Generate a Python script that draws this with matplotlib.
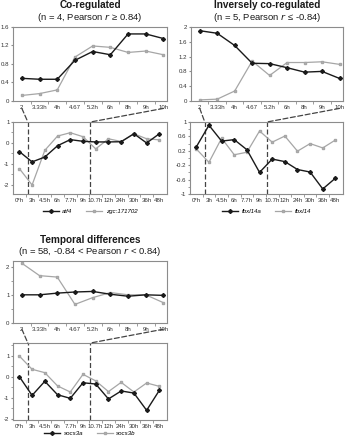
import numpy as np
import matplotlib
matplotlib.use('Agg')
from matplotlib import pyplot as plt
from matplotlib.patches import ConnectionPatch
from matplotlib.ticker import FormatStrFormatter, MultipleLocator, FixedLocator

plt.rcParams['font.family'] = ['Liberation Sans', 'DejaVu Sans']

'time points'
early_labels = ['2', '3.33h', '4h', '4.67', '5.2h', '6h', '8h', '9h', '10h']
full_labels = ['0*h', '3h', '4.5h', '6h', '7.7h', '9h', '10.7h', '12h', '24h', '30h', '36h', '48h']
full_hours = [0, 3, 4.5, 6, 7.7, 9, 10.7, 12, 24, 30, 36, 48]
zoom_from, zoom_to = 2, 10

'co-regulated'
atf4_early = [0.49, 0.47, 0.47, 0.88, 1.07, 1.00, 1.45, 1.45, 1.35]
zgc_early = [0.12, 0.16, 0.24, 0.95, 1.19, 1.16, 1.05, 1.08, 1.00]
atf4_full = [-0.41, -0.90, -0.67, -0.13, 0.16, 0.08, 0.05, 0.05, 0.06, 0.44, 0.00, 0.44]
zgc_full = [-1.22, -2.00, -0.35, 0.33, 0.49, 0.30, -0.28, 0.20, 0.07, 0.44, 0.20, 0.15]

'inversely co-regulated'
fbxl14a_early = [1.90, 1.83, 1.50, 1.02, 1.01, 0.90, 0.78, 0.80, 0.61]
fbxl14_early = [0.03, 0.05, 0.27, 1.08, 0.69, 1.04, 1.04, 1.06, 0.99]
fbxl14a_full = [0.31, 0.91, 0.47, 0.51, 0.23, -0.40, -0.03, -0.10, -0.32, -0.39, -0.86, -0.56]
fbxl14_full = [0.25, -0.12, 0.55, 0.09, 0.16, 0.75, 0.44, 0.61, 0.19, 0.40, 0.28, 0.50]

'temporal differences'
socs3a_early = [1.00, 1.00, 1.06, 1.10, 1.12, 1.02, 0.95, 1.00, 0.98]
socs3b_early = [2.12, 1.68, 1.63, 0.66, 0.90, 1.08, 1.00, 1.00, 0.72]
socs3a_full = [0.00, -0.89, -0.22, -0.86, -1.03, -0.29, -0.35, -1.06, -0.68, -0.78, -1.60, -0.65]
socs3b_full = [0.98, 0.35, 0.19, -0.44, -0.73, 0.11, -0.20, -0.71, -0.27, -0.73, -0.30, -0.46]

W, H = 346, 440
fig = plt.figure(figsize=(W / 100, H / 100), dpi=100)

def rect(x0, y0, x1, y1):
	'pixel box -> figure fraction'
	return [x0 / W, 1 - y1 / H, (x1 - x0) / W, (y1 - y0) / H]

def style(ax, labels):
	for s in ax.spines.values():
		s.set_color('#8c8c8c')
		s.set_linewidth(0.8)
	ax.set_xticks(range(len(labels)))
	ax.set_xticklabels(labels)
	ax.xaxis.set_minor_locator(FixedLocator(np.arange(len(labels) - 1) + 0.5))
	ax.tick_params(axis='x', which='major', length=0, labelsize=4.4, pad=3, colors='#333333')
	ax.tick_params(axis='x', which='minor', length=1.8, color='#8c8c8c')
	ax.tick_params(axis='y', which='both', length=1.5, labelsize=4.4, pad=1, color='#8c8c8c', labelcolor='#333333')
	ax.yaxis.set_major_formatter(FormatStrFormatter('%g'))

def panel(box_top, box_bot, title, subtitle, names, early, full, ylim_top, step_top, ylim_bot, ticks_bot, legend_y):
	ax1 = fig.add_axes(rect(*box_top))
	ax2 = fig.add_axes(rect(*box_bot))
	x1 = np.arange(len(early_labels))
	x2 = np.arange(len(full_labels))
	ax1.plot(x1, early[0], color='#1a1a1a', lw=1.0, marker='D', ms=2.0, zorder=3)
	ax1.plot(x1, early[1], color='#a6a6a6', lw=0.9, marker='s', ms=1.9, mfc='#bdbdbd')
	ax2.plot(x2, full[0], color='#1a1a1a', lw=1.0, marker='D', ms=2.0, zorder=3, label=names[0])
	ax2.plot(x2, full[1], color='#a6a6a6', lw=0.9, marker='s', ms=1.9, mfc='#bdbdbd', label=names[1])
	style(ax1, early_labels)
	style(ax2, full_labels)
	ax1.set_xlim(-0.5, 8.2)
	ax2.set_xlim(-0.5, 11.6)
	ax1.set_ylim(*ylim_top)
	ax1.yaxis.set_major_locator(MultipleLocator(step_top[0]))
	if step_top[1]:
		ax1.yaxis.set_minor_locator(MultipleLocator(step_top[1]))
	ax2.set_ylim(*ylim_bot)
	ax2.set_yticks(ticks_bot[0])
	ax2.yaxis.set_minor_locator(MultipleLocator(ticks_bot[1]))

	'zoom marks'
	xa = np.interp(zoom_from, full_hours, x2)
	xb = np.interp(zoom_to, full_hours, x2)
	for xs, xt in [(0, xa), (len(early_labels) - 1, xb)]:
		ax2.axvline(xt, color='#444444', lw=0.9, ls=(0, (4, 2)), zorder=1)
		con = ConnectionPatch(xyA=(xs, -0.1), coordsA=ax1.get_xaxis_transform(),
			xyB=(xt, 1), coordsB=ax2.get_xaxis_transform(),
			color='#444444', lw=0.9, ls=(0, (4, 2)))
		fig.add_artist(con)

	cx = (box_top[0] + box_top[2]) / 2 / W
	fig.text(cx, 1 - (box_top[1] - 21.5) / H, title, ha='center', va='center', fontsize=7.2, fontweight='bold', color='#1a1a1a')
	fig.text(cx, 1 - (box_top[1] - 9.5) / H, subtitle, ha='center', va='center', fontsize=6.8, color='#1a1a1a')

	ax2.legend(loc='center', bbox_to_anchor=(0.5, legend_y), ncol=2, frameon=False,
		prop={'style': 'italic', 'size': 4.4}, handlelength=2.6, columnspacing=2.2, handletextpad=0.6,
		borderaxespad=0)

panel((13, 27, 167, 101), (13, 122, 167, 194), 'Co-regulated', '(n = 4, Pearson $r$ \u2265 0.84)',
	['atf4', 'zgc:171702'], (atf4_early, zgc_early), (atf4_full, zgc_full),
	(0, 1.6), (0.4, None), (-2.43, 1.0), ([-2, -1, 0, 1], 0.5), -0.24)

panel((191, 27, 343, 101), (190, 122, 343, 194), 'Inversely co-regulated', '(n = 5, Pearson $r$ \u2264 -0.84)',
	['fbxl14a', 'fbxl14'], (fbxl14a_early, fbxl14_early), (fbxl14a_full, fbxl14_full),
	(0, 2.0), (0.4, None), (-1.0, 1.0), ([-1, -0.6, -0.2, 0.2, 0.6, 1], 0.2), -0.24)

panel((13, 261, 167, 323), (13, 343, 167, 420), 'Temporal differences', '(n = 58, -0.84 < Pearson $r$ < 0.84)',
	['socs3a', 'socs3b'], (socs3a_early, socs3b_early), (socs3a_full, socs3b_full),
	(0, 2.2), (1, 0.5), (-2.06, 1.6), ([-2, -1, 0, 1], 0.5), -0.18)

fig.savefig('out.png', dpi=100)
